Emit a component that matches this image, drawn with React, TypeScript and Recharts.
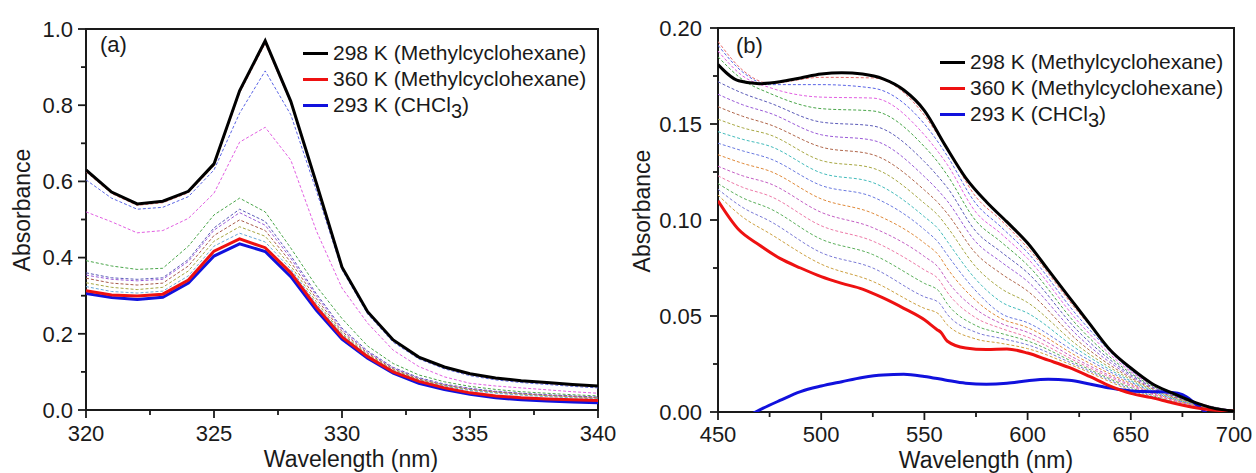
import React from 'react';
import { LineChart, Line, XAxis, YAxis, ReferenceArea } from 'recharts';

const FONT = '"Liberation Sans", Arial, Helvetica, sans-serif';
const INK = '#1a1a1a';

// ---------- Panel (a): 320–340 nm, 1 nm steps ----------
const wavelengthsA = [320, 321, 322, 323, 324, 325, 326, 327, 328, 329, 330, 331, 332, 333, 334, 335, 336, 337, 338, 339, 340];

const a298 = [0.630, 0.572, 0.541, 0.548, 0.574, 0.646, 0.838, 0.969, 0.810, 0.595, 0.375, 0.258, 0.184, 0.139, 0.113, 0.095, 0.084, 0.077, 0.072, 0.067, 0.063];
const a360 = [0.313, 0.302, 0.299, 0.304, 0.341, 0.417, 0.449, 0.426, 0.360, 0.270, 0.192, 0.140, 0.100, 0.075, 0.058, 0.045, 0.037, 0.032, 0.029, 0.027, 0.025];
const aChcl3 = [0.306, 0.295, 0.290, 0.296, 0.333, 0.404, 0.436, 0.416, 0.350, 0.262, 0.186, 0.136, 0.097, 0.070, 0.054, 0.041, 0.032, 0.027, 0.0235, 0.021, 0.019];

const aDash1 = [0.625, 0.568, 0.537, 0.544, 0.570, 0.641, 0.832, 0.962, 0.805, 0.590, 0.372, 0.256, 0.182, 0.137, 0.111, 0.093, 0.082, 0.075, 0.070, 0.065, 0.061];
const aDash2 = [0.604, 0.556, 0.527, 0.532, 0.560, 0.630, 0.779, 0.890, 0.775, 0.575, 0.368, 0.252, 0.178, 0.134, 0.108, 0.090, 0.079, 0.072, 0.067, 0.062, 0.058];
const aDash3 = [0.520, 0.494, 0.465, 0.471, 0.503, 0.569, 0.703, 0.742, 0.656, 0.470, 0.320, 0.228, 0.157, 0.114, 0.087, 0.070, 0.063, 0.058, 0.053, 0.048, 0.044];
const aDash4 = [0.392, 0.378, 0.369, 0.372, 0.430, 0.512, 0.556, 0.520, 0.425, 0.325, 0.240, 0.168, 0.122, 0.092, 0.074, 0.062, 0.054, 0.048, 0.044, 0.040, 0.037];
const aDash5 = [0.360, 0.347, 0.343, 0.347, 0.395, 0.478, 0.527, 0.495, 0.405, 0.305, 0.215, 0.155, 0.112, 0.085, 0.068, 0.057, 0.049, 0.044, 0.040, 0.037, 0.034];
const aDash6 = [0.354, 0.343, 0.339, 0.343, 0.390, 0.472, 0.518, 0.485, 0.398, 0.300, 0.211, 0.152, 0.110, 0.083, 0.066, 0.055, 0.048, 0.043, 0.039, 0.036, 0.033];
const aDash7 = [0.346, 0.333, 0.328, 0.333, 0.378, 0.458, 0.499, 0.471, 0.388, 0.292, 0.206, 0.149, 0.108, 0.081, 0.065, 0.054, 0.047, 0.042, 0.038, 0.035, 0.032];
const aDash8 = [0.334, 0.322, 0.316, 0.322, 0.365, 0.443, 0.481, 0.456, 0.378, 0.284, 0.201, 0.146, 0.106, 0.080, 0.064, 0.053, 0.046, 0.041, 0.037, 0.034, 0.031];
const aDash9 = [0.324, 0.311, 0.307, 0.312, 0.352, 0.430, 0.464, 0.441, 0.370, 0.278, 0.198, 0.143, 0.104, 0.078, 0.062, 0.051, 0.044, 0.039, 0.035, 0.032, 0.029];

const dashedA = [aDash1, aDash2, aDash3, aDash4, aDash5, aDash6, aDash7, aDash8, aDash9];
const dashColorsA = ['#e86a6a', '#5a64e6', '#e25ee2', '#4aa64a', '#5a5ab8', '#9a5ad8', '#a85a4a', '#a8a844', '#6aa8d8'];

const xTicksA = [320, 322.5, 325, 327.5, 330, 332.5, 335, 337.5, 340];
const xMajorA = [320, 325, 330, 335, 340];
const yTicksA = [0, 0.1, 0.2, 0.3, 0.4, 0.5, 0.6, 0.7, 0.8, 0.9, 1.0];
const yMajorA = [0, 0.2, 0.4, 0.6, 0.8, 1.0];

// ---------- Panel (b): 450–700 nm ----------
const wl10 = [450, 460, 470, 480, 490, 500, 510, 520, 530, 540, 550, 560, 570, 580, 590, 600, 610, 620, 630, 640, 650, 660, 670, 680, 690, 700];
const b298 = [0.181, 0.1725, 0.171, 0.172, 0.174, 0.176, 0.1767, 0.176, 0.1735, 0.1677, 0.157, 0.139, 0.122, 0.1095, 0.099, 0.088, 0.074, 0.060, 0.046, 0.0323, 0.0229, 0.015, 0.0099, 0.0054, 0.002, 0.0005];

const wl360 = [450, 460, 470, 480, 490, 500, 510, 520, 530, 540, 550, 556, 558, 561, 570, 580, 590, 600, 610, 620, 630, 640, 650, 660, 670, 680, 690, 700];
const b360 = [0.110, 0.095, 0.087, 0.080, 0.075, 0.0705, 0.067, 0.064, 0.0594, 0.054, 0.048, 0.043, 0.0415, 0.037, 0.0333, 0.0325, 0.0328, 0.0307, 0.027, 0.0232, 0.0185, 0.0135, 0.0097, 0.0075, 0.0048, 0.0025, 0.001, 0.0005];

const wlChcl3 = [450, 460, 470, 480, 490, 500, 510, 520, 530, 540, 550, 560, 570, 580, 590, 600, 610, 620, 630, 640, 650, 660, 670, 675, 680, 685, 690, 700];
const bChcl3 = [-0.013, -0.005, 0.001, 0.006, 0.0106, 0.0135, 0.0158, 0.018, 0.0193, 0.0196, 0.0185, 0.0167, 0.015, 0.0145, 0.015, 0.0163, 0.017, 0.0165, 0.0146, 0.0125, 0.011, 0.0106, 0.0102, 0.009, 0.0055, 0.001, -0.004, -0.01];

const wlDashB = [450, 462, 475, 500, 525, 550, 557, 561, 575, 587, 600, 625, 650, 675, 700];
const bDash01 = [0.193, 0.178, 0.1712, 0.1743, 0.174, 0.1545, 0.1435, 0.1370, 0.112, 0.100, 0.0855, 0.0515, 0.0225, 0.0075, 0.0006];
const bDash02 = [0.191, 0.177, 0.1705, 0.1705, 0.1687, 0.150, 0.1400, 0.1335, 0.1085, 0.0965, 0.083, 0.049, 0.0218, 0.0073, 0.0006];
const bDash03 = [0.188, 0.175, 0.169, 0.164, 0.1635, 0.1443, 0.1350, 0.1290, 0.104, 0.093, 0.080, 0.0465, 0.021, 0.0071, 0.0006];
const bDash04 = [0.185, 0.173, 0.166, 0.158, 0.1568, 0.1382, 0.1295, 0.1235, 0.0995, 0.0887, 0.0765, 0.044, 0.0202, 0.0069, 0.0006];
const bDash05 = [0.172, 0.166, 0.161, 0.151, 0.149, 0.1304, 0.1222, 0.1170, 0.094, 0.0835, 0.0725, 0.0415, 0.0194, 0.0067, 0.0006];
const bDash06 = [0.1655, 0.160, 0.1557, 0.1444, 0.1415, 0.1226, 0.1150, 0.1100, 0.0885, 0.0783, 0.068, 0.039, 0.0186, 0.0065, 0.0006];
const bDash07 = [0.159, 0.154, 0.1497, 0.138, 0.134, 0.1156, 0.1085, 0.1035, 0.0825, 0.0722, 0.063, 0.0365, 0.0178, 0.0062, 0.0006];
const bDash08 = [0.1525, 0.148, 0.1444, 0.131, 0.127, 0.1087, 0.1020, 0.0965, 0.0755, 0.0644, 0.057, 0.034, 0.017, 0.0059, 0.0006];
const bDash09 = [0.146, 0.142, 0.1385, 0.1245, 0.1195, 0.1017, 0.0950, 0.0890, 0.069, 0.0575, 0.0515, 0.032, 0.0162, 0.0056, 0.0006];
const bDash10 = [0.140, 0.136, 0.132, 0.118, 0.112, 0.095, 0.088, 0.082, 0.063, 0.0514, 0.0465, 0.030, 0.0155, 0.0053, 0.0006];
const bDash11 = [0.134, 0.1295, 0.1255, 0.111, 0.1035, 0.088, 0.0815, 0.075, 0.058, 0.0488, 0.044, 0.0283, 0.0148, 0.005, 0.0006];
const bDash12 = [0.128, 0.123, 0.119, 0.104, 0.096, 0.081, 0.075, 0.0685, 0.0535, 0.0462, 0.0415, 0.0268, 0.0141, 0.0047, 0.0006];
const bDash13 = [0.123, 0.117, 0.1125, 0.097, 0.089, 0.074, 0.069, 0.0625, 0.049, 0.0436, 0.039, 0.0256, 0.0134, 0.0044, 0.0006];
const bDash14 = [0.119, 0.1115, 0.106, 0.090, 0.082, 0.067, 0.063, 0.0565, 0.045, 0.041, 0.037, 0.0246, 0.0127, 0.0041, 0.0006];
const bDash15 = [0.116, 0.1065, 0.0995, 0.083, 0.075, 0.060, 0.057, 0.051, 0.0415, 0.0384, 0.035, 0.0237, 0.012, 0.0038, 0.0006];
const bDash16 = [0.113, 0.1015, 0.093, 0.077, 0.068, 0.054, 0.051, 0.0455, 0.038, 0.0358, 0.033, 0.0228, 0.0113, 0.0035, 0.0006];

const dashedB = [bDash01, bDash02, bDash03, bDash04, bDash05, bDash06, bDash07, bDash08, bDash09, bDash10, bDash11, bDash12, bDash13, bDash14, bDash15, bDash16];
const dashColorsB = ['#e86a6a', '#5a64e6', '#e25ee2', '#4aa64a', '#5a5ab8', '#9a5ad8', '#b0664a', '#a8a844', '#44bcbc', '#6a7ae0', '#e08a3a', '#c45ec4', '#ee7aa8', '#5cb05c', '#7a7ad6', '#cda040'];

const xTicksB = [450, 475, 500, 525, 550, 575, 600, 625, 650, 675, 700];
const xMajorB = [450, 500, 550, 600, 650, 700];
const yTicksB = [0, 0.025, 0.05, 0.075, 0.1, 0.125, 0.15, 0.175, 0.2];
const yMajorB = [0, 0.05, 0.1, 0.15, 0.2];

const legendLabels = ['298 K (Methylcyclohexane)', '360 K (Methylcyclohexane)', '293 K (CHCl'];
const legendColors = ['#000000', '#ee1111', '#1111dd'];

const toPoints = (xs: number[], ys: number[]) => xs.map((wl, i) => ({ wl, v: ys[i] }));

const isMajor = (list: number[], v: number) => list.some((m) => Math.abs(m - v) < 1e-9);

// With tickSize and tickMargin at 0, (x, y) handed to a tick is the point on the axis line.
function makeXTick(majors: number[], digits: number, labelDy: number) {
  return (props: any) => {
    const { x, y, payload } = props;
    const v = payload.value as number;
    const major = isMajor(majors, v);
    return (
      <g>
        <line x1={x} y1={y} x2={x} y2={y + (major ? 8 : 5)} stroke={INK} strokeWidth={1.8} />
        {major && (
          <text x={x} y={y + labelDy} textAnchor="middle" fontSize={22} fontFamily={FONT} fill={INK}>
            {v.toFixed(digits)}
          </text>
        )}
      </g>
    );
  };
}

function makeYTick(majors: number[], digits: number, gap: number) {
  return (props: any) => {
    const { x, y, payload } = props;
    const v = payload.value as number;
    const major = isMajor(majors, v);
    return (
      <g>
        <line x1={x} y1={y} x2={x - (major ? 8 : 5)} y2={y} stroke={INK} strokeWidth={1.8} />
        {major && (
          <text x={x - gap} y={y + 7.8} textAnchor="end" fontSize={22} fontFamily={FONT} fill={INK}>
            {v.toFixed(digits)}
          </text>
        )}
      </g>
    );
  };
}

function Legend({ left, top }: { left: number; top: number }) {
  return (
    <>
      {legendLabels.map((label, i) => (
        <div
          key={label}
          style={{
            position: 'absolute',
            left,
            top: top + i * 26 - 13,
            height: 26,
            display: 'flex',
            alignItems: 'center',
            fontFamily: FONT,
            fontSize: 21,
            color: INK,
            whiteSpace: 'nowrap',
          }}
        >
          <div style={{ width: 25, height: 3, background: legendColors[i], marginRight: 5 }} />
          <span style={{ lineHeight: '26px' }}>
            {label}
            {i === 2 && (
              <>
                <span style={{ fontSize: 20, position: 'relative', top: 6, lineHeight: 0 }}>3</span>)
              </>
            )}
          </span>
        </div>
      ))}
    </>
  );
}

const absText = (extra: React.CSSProperties): React.CSSProperties => ({
  position: 'absolute',
  fontFamily: FONT,
  color: INK,
  whiteSpace: 'nowrap',
  lineHeight: 1,
  ...extra,
});

const Y_AXIS_W = 60;

export default function App() {
  return (
    <div style={{ position: 'absolute', left: 0, top: 0, width: 1256, height: 473, background: '#fff', overflow: 'hidden' }}>
      {/* Panel (a) */}
      <div style={{ position: 'absolute', left: 0, top: 0 }}>
        <LineChart width={620} height={473} margin={{ top: 29, right: 22, bottom: 0, left: 86 - Y_AXIS_W }}>
          <XAxis
            dataKey="wl"
            type="number"
            domain={[320, 340]}
            ticks={xTicksA}
            interval={0}
            allowDataOverflow
            axisLine={false}
            tickLine={false}
            tickSize={0}
            tickMargin={0}
            height={63}
            tick={makeXTick(xMajorA, 0, 31)}
          />
          <YAxis
            type="number"
            domain={[0, 1]}
            ticks={yTicksA}
            interval={0}
            allowDataOverflow
            axisLine={false}
            tickLine={false}
            tickSize={0}
            tickMargin={0}
            width={Y_AXIS_W}
            tick={makeYTick(yMajorA, 1, 13)}
          />
          <ReferenceArea x1={320} x2={340} y1={0} y2={1} fill="none" stroke={INK} strokeWidth={2} />
          {dashedA.map((ys, i) => (
            <Line
              key={`ad${i}`}
              data={toPoints(wavelengthsA, ys)}
              dataKey="v"
              type="linear"
              stroke={dashColorsA[i]}
              strokeWidth={1}
              strokeDasharray="3 2"
              dot={false}
              activeDot={false}
              isAnimationActive={false}
            />
          ))}
          <Line data={toPoints(wavelengthsA, aChcl3)} dataKey="v" type="linear" stroke="#1111dd" strokeWidth={3} dot={false} activeDot={false} isAnimationActive={false} />
          <Line data={toPoints(wavelengthsA, a360)} dataKey="v" type="linear" stroke="#ee1111" strokeWidth={3} dot={false} activeDot={false} isAnimationActive={false} />
          <Line data={toPoints(wavelengthsA, a298)} dataKey="v" type="linear" stroke="#000000" strokeWidth={3} dot={false} activeDot={false} isAnimationActive={false} />
        </LineChart>
      </div>

      {/* Panel (b) */}
      <div style={{ position: 'absolute', left: 630, top: 0 }}>
        <LineChart width={626} height={473} margin={{ top: 28, right: 22, bottom: 0, left: 88 - Y_AXIS_W }}>
          <XAxis
            dataKey="wl"
            type="number"
            domain={[450, 700]}
            ticks={xTicksB}
            interval={0}
            allowDataOverflow
            axisLine={false}
            tickLine={false}
            tickSize={0}
            tickMargin={0}
            height={61}
            tick={makeXTick(xMajorB, 0, 30)}
          />
          <YAxis
            type="number"
            domain={[0, 0.2]}
            ticks={yTicksB}
            interval={0}
            allowDataOverflow
            axisLine={false}
            tickLine={false}
            tickSize={0}
            tickMargin={0}
            width={Y_AXIS_W}
            tick={makeYTick(yMajorB, 2, 16)}
          />
          <ReferenceArea x1={450} x2={700} y1={0} y2={0.2} fill="none" stroke={INK} strokeWidth={2} />
          {dashedB.map((ys, i) => (
            <Line
              key={`bd${i}`}
              data={toPoints(wlDashB, ys)}
              dataKey="v"
              type="monotone"
              stroke={dashColorsB[i]}
              strokeWidth={1}
              strokeDasharray="3 2"
              dot={false}
              activeDot={false}
              isAnimationActive={false}
            />
          ))}
          <Line data={toPoints(wlChcl3, bChcl3)} dataKey="v" type="monotone" stroke="#1111dd" strokeWidth={3} dot={false} activeDot={false} isAnimationActive={false} />
          <Line data={toPoints(wl360, b360)} dataKey="v" type="monotone" stroke="#ee1111" strokeWidth={3} dot={false} activeDot={false} isAnimationActive={false} />
          <Line data={toPoints(wl10, b298)} dataKey="v" type="monotone" stroke="#000000" strokeWidth={3} dot={false} activeDot={false} isAnimationActive={false} />
        </LineChart>
      </div>

      {/* Panel labels, axis titles and legends */}
      <div style={absText({ left: 100, top: 34, fontSize: 22 })}>(a)</div>
      <div style={absText({ left: 736, top: 35, fontSize: 22 })}>(b)</div>

      <div style={absText({ left: 22, top: 210, fontSize: 23, transform: 'translate(-50%, -50%) rotate(-90deg)' })}>Absorbance</div>
      <div style={absText({ left: 642, top: 211, fontSize: 23, transform: 'translate(-50%, -50%) rotate(-90deg)' })}>Absorbance</div>

      <div style={absText({ left: 351, top: 459, fontSize: 23, transform: 'translate(-50%, -50%)' })}>Wavelength (nm)</div>
      <div style={absText({ left: 986, top: 460, fontSize: 23, transform: 'translate(-50%, -50%)' })}>Wavelength (nm)</div>

      <Legend left={303} top={53} />
      <Legend left={940} top={62} />
    </div>
  );
}
